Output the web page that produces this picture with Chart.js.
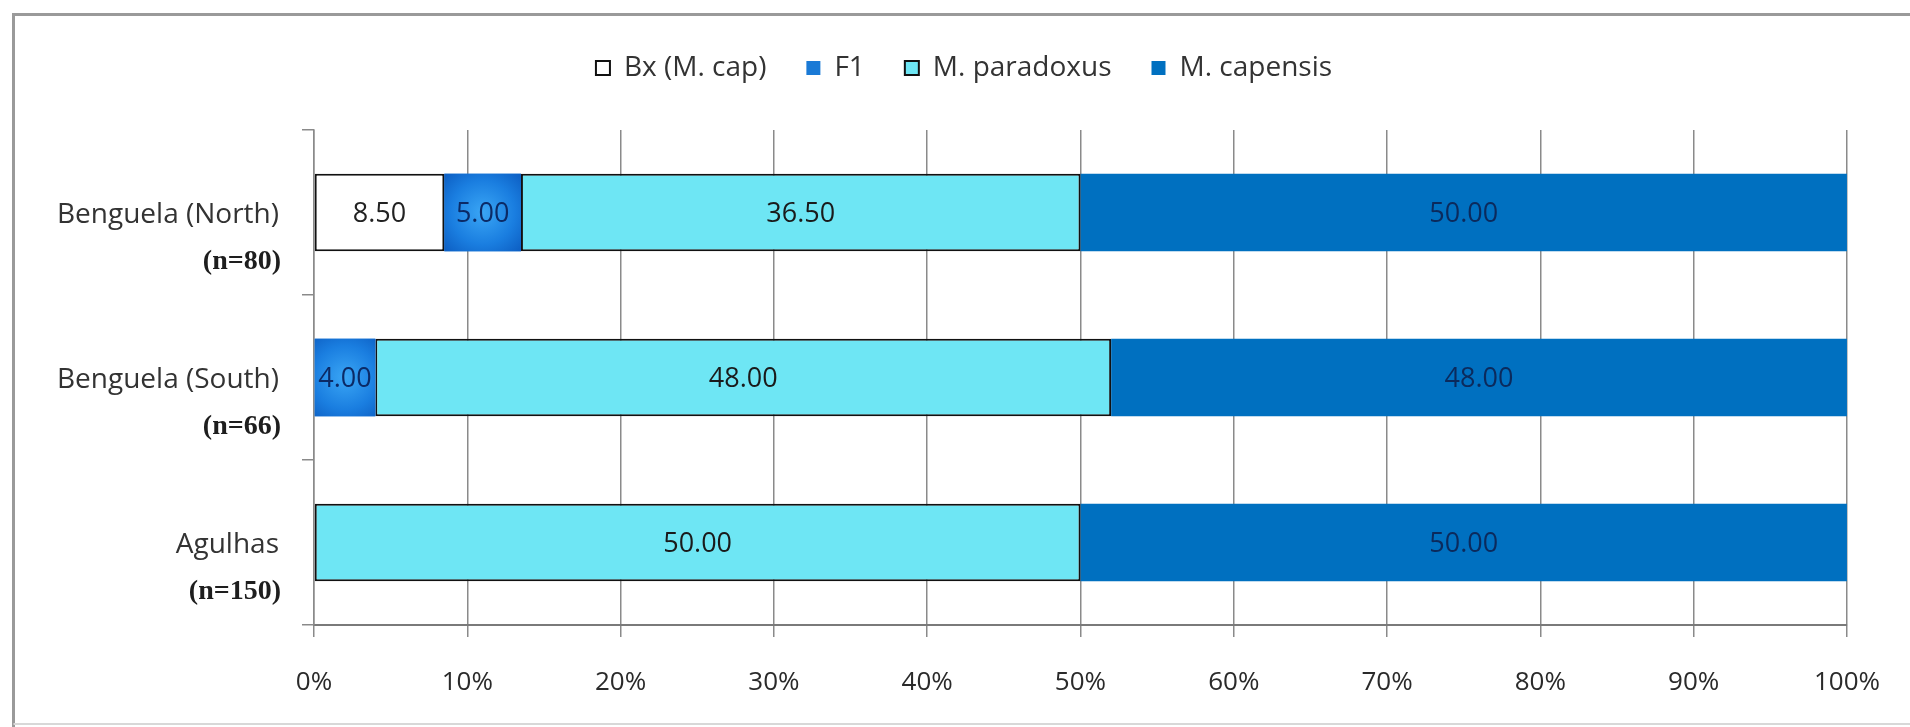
<!DOCTYPE html>
<html>
<head>
<meta charset="utf-8">
<script src="https://cdn.jsdelivr.net/npm/chart.js@4.4.1/dist/chart.umd.min.js"></script>
<style>
  html, body { margin: 0; padding: 0; background: #ffffff; }
  #wrap { position: relative; width: 1910px; height: 727px; }
  canvas { display: block; }
</style>
</head>
<body>
<div id="wrap"><canvas id="c" width="1910" height="727"></canvas></div>
<script>
// ---- data ----
const categories = ['Benguela (North)', 'Benguela (South)', 'Agulhas'];
const sampleSizes = ['(n=80)', '(n=66)', '(n=150)'];
const seriesNames = ['Bx (M. cap)', 'F1', 'M. paradoxus', 'M. capensis'];
const bxValues = [8.5, 0, 0];
const f1Values = [5.0, 4.0, 0];
const paradoxusValues = [36.5, 48.0, 50.0];
const capensisValues = [50.0, 48.0, 50.0];
const xTickMin = 0;
const xTickMax = 100;
const xTickStep = 10;

const sansFont = "'Open Sans', 'DejaVu Sans', sans-serif";
const serifFont = "'Liberation Serif', 'DejaVu Serif', serif";

const labelColors = ['#222222', '#0b2a66', '#1a1a1a', '#0b2a5c'];

// frame around the chart
const framePlugin = {
  id: 'frame',
  beforeDraw(chart) {
    const ctx = chart.ctx;
    ctx.save();
    ctx.fillStyle = '#ffffff';
    ctx.fillRect(0, 0, chart.width, chart.height);
    ctx.strokeStyle = '#9a9a9a';
    ctx.lineWidth = 3;
    ctx.beginPath();
    ctx.moveTo(13.5, chart.height);
    ctx.lineTo(13.5, 14.5);
    ctx.lineTo(chart.width, 14.5);
    ctx.stroke();
    ctx.strokeStyle = '#d8d8d8';
    ctx.lineWidth = 2;
    ctx.beginPath();
    ctx.moveTo(13.5, chart.height - 3);
    ctx.lineTo(chart.width, chart.height - 3);
    ctx.stroke();
    ctx.restore();
  }
};

// extra room below the legend
const legendSpacePlugin = {
  id: 'legendSpace',
  beforeLayout(chart) {
    const lg = chart.legend;
    if (lg && !lg._extraPatched) {
      const origFit = lg.fit.bind(lg);
      lg.fit = function () { origFit(); this.height += 38; };
      lg._extraPatched = true;
    }
  }
};

// radial shading of the F1 segments (geometry from the library's elements)
const f1ShadePlugin = {
  id: 'f1Shade',
  afterDatasetDraw(chart, args) {
    if (args.index !== 1) return;
    const ctx = chart.ctx;
    const meta = args.meta;
    ctx.save();
    meta.data.forEach((el, i) => {
      if (!chart.data.datasets[1].data[i]) return;
      const p = el.getProps(['x', 'y', 'base', 'height'], true);
      const x0 = Math.min(p.x, p.base), x1 = Math.max(p.x, p.base);
      const y0 = p.y - p.height / 2, y1 = p.y + p.height / 2;
      const cx = (x0 + x1) / 2, cy = p.y;
      const r = Math.max(x1 - x0, y1 - y0) * 0.75;
      const g = ctx.createRadialGradient(cx, cy, 0, cx, cy, r);
      g.addColorStop(0, '#3aa6f5');
      g.addColorStop(0.55, '#1a7ee0');
      g.addColorStop(1, '#0a58bd');
      ctx.fillStyle = g;
      ctx.fillRect(x0, y0, x1 - x0, y1 - y0);
    });
    ctx.restore();
  }
};

// value labels inside the bars
const valueLabelPlugin = {
  id: 'valueLabels',
  afterDatasetsDraw(chart) {
    const ctx = chart.ctx;
    const area = chart.chartArea;
    ctx.save();
    ctx.beginPath();
    ctx.rect(area.left, area.top, area.right - area.left, area.bottom - area.top);
    ctx.clip();
    ctx.font = "27px " + sansFont;
    ctx.textAlign = 'center';
    ctx.textBaseline = 'middle';
    chart.data.datasets.forEach((ds, di) => {
      const meta = chart.getDatasetMeta(di);
      meta.data.forEach((el, i) => {
        const v = ds.data[i];
        if (!v) return;
        const p = el.getProps(['x', 'y', 'base'], true);
        ctx.fillStyle = labelColors[di];
        ctx.fillText(v.toFixed(2), (p.x + p.base) / 2, p.y + 2);
      });
    });
    ctx.restore();
  }
};

// two-line category labels (sans name, bold serif sample size)
const categoryLabelPlugin = {
  id: 'categoryLabels',
  afterDraw(chart) {
    const ctx = chart.ctx;
    const yScale = chart.scales.y;
    ctx.save();
    ctx.textAlign = 'right';
    ctx.textBaseline = 'middle';
    categories.forEach((name, i) => {
      const yc = yScale.getPixelForValue(i);
      ctx.font = "28px " + sansFont;
      ctx.fillStyle = '#333333';
      ctx.fillText(name, 279, yc + 3);
      ctx.font = "bold 28px " + serifFont;
      ctx.fillStyle = '#1e1e1e';
      ctx.fillText(sampleSizes[i], 281, yc + 49);
    });
    ctx.restore();
  }
};

const ctx = document.getElementById('c').getContext('2d');
new Chart(ctx, {
  type: 'bar',
  data: {
    labels: categories,
    datasets: [
      { label: seriesNames[0], data: bxValues, backgroundColor: '#ffffff', borderColor: '#111111', borderWidth: 2, borderSkipped: false },
      { label: seriesNames[1], data: f1Values, backgroundColor: '#1a7ad6', borderColor: '#1a7ad6', borderWidth: 0 },
      { label: seriesNames[2], data: paradoxusValues, backgroundColor: '#6ee6f4', borderColor: '#111111', borderWidth: 2, borderSkipped: false },
      { label: seriesNames[3], data: capensisValues, backgroundColor: '#0070c0', borderColor: '#0070c0', borderWidth: 0 }
    ]
  },
  options: {
    indexAxis: 'y',
    responsive: false,
    animation: false,
    devicePixelRatio: 1,
    layout: { padding: { left: 80, right: 62, top: 14, bottom: 0 } },
    datasets: { bar: { categoryPercentage: 1.0, barPercentage: 0.47 } },
    plugins: {
      legend: {
        position: 'top',
        align: 'center',
        labels: {
          font: { family: sansFont, size: 28 },
          color: '#333333',
          boxWidth: 14,
          boxHeight: 14,
          padding: 40
        }
      },
      tooltip: { enabled: false }
    },
    scales: {
      x: {
        stacked: true,
        min: xTickMin,
        max: xTickMax,
        afterFit(s) { s.height = 102; },
        ticks: {
          stepSize: xTickStep,
          padding: 30,
          color: '#2a2a2a',
          font: { family: sansFont, size: 26 },
          callback: (v) => v + '%'
        },
        grid: { color: '#8a8a8a', lineWidth: 1.5, tickLength: 12, drawTicks: true },
        border: { color: '#7a7a7a', width: 2 }
      },
      y: {
        stacked: true,
        offset: true,
        afterFit(s) { s.width = 234; },
        ticks: { display: false },
        grid: { offset: true, drawOnChartArea: false, drawTicks: true, tickLength: 12, color: '#8a8a8a', lineWidth: 1.5 },
        border: { color: '#8a8a8a', width: 1.5 }
      }
    }
  },
  plugins: [framePlugin, legendSpacePlugin, f1ShadePlugin, valueLabelPlugin, categoryLabelPlugin]
});
</script>
</body>
</html>
